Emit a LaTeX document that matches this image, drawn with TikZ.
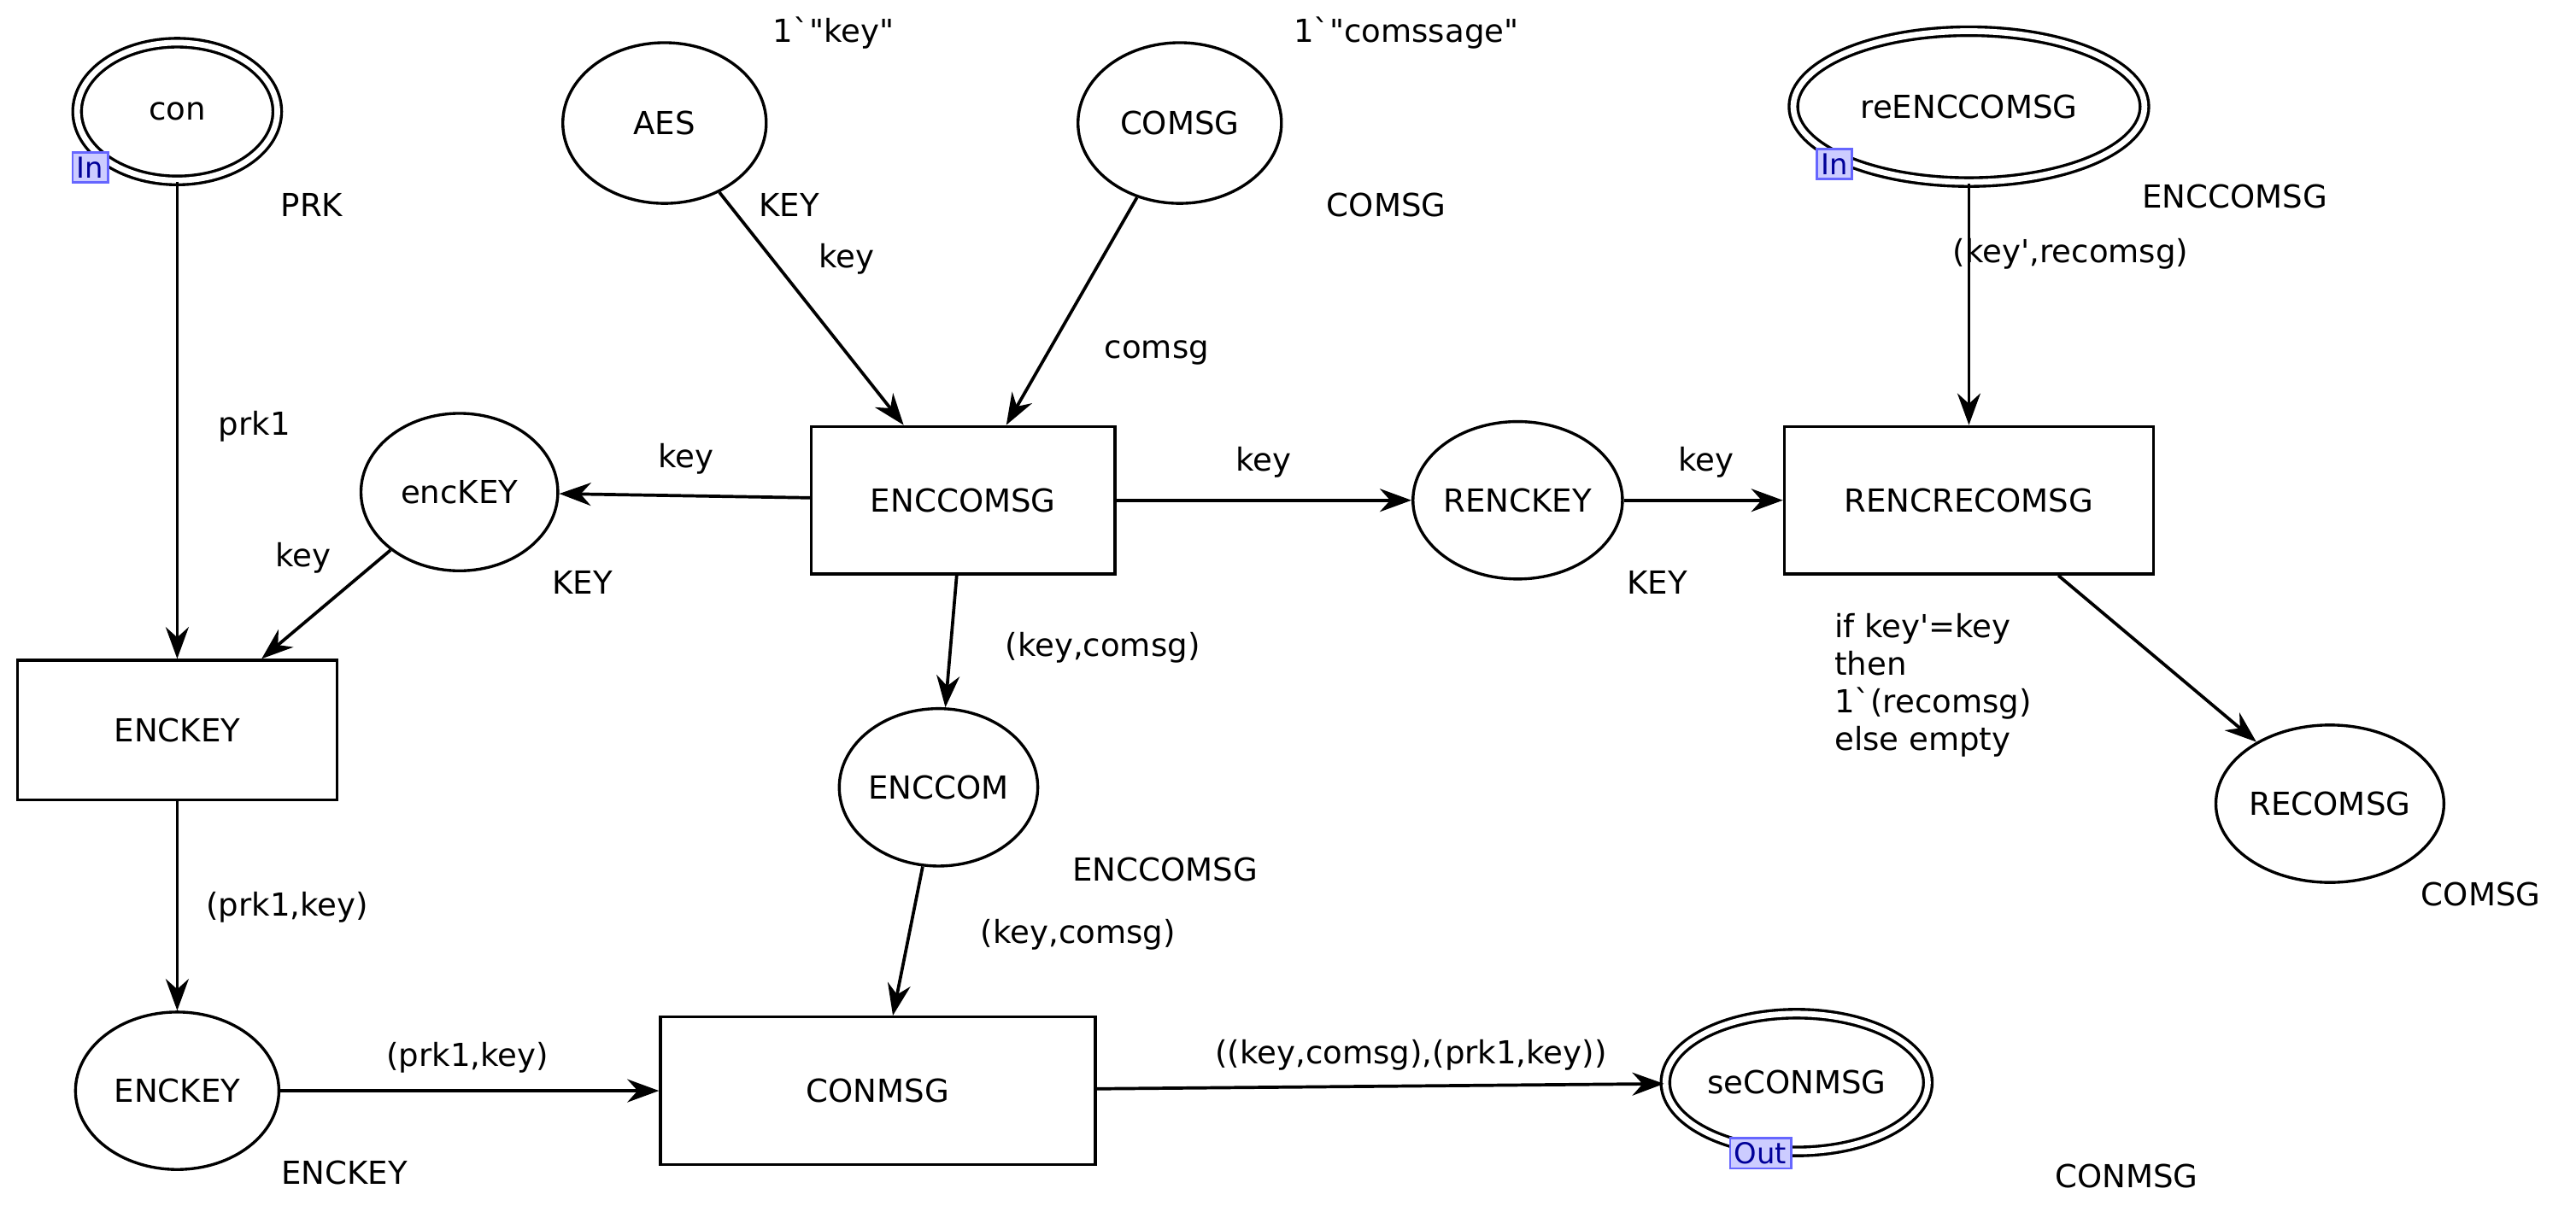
\documentclass[tikz,border=0pt]{standalone}
\usepackage{fontspec}
\setmainfont{DejaVu Sans}[Ligatures=TeXOff]
\usetikzlibrary{arrows.meta,shapes.geometric}
\begin{document}
\begin{tikzpicture}[x=0.02cm,y=-0.02cm,font=\fontsize{11}{13}\selectfont,
 pl/.style={ellipse,draw,line width=1pt,inner sep=0pt},
 dpl/.style={ellipse,draw,line width=1pt,double distance=2pt,inner sep=0pt},
 tr/.style={rectangle,draw,line width=1pt,inner sep=0pt},
 arc/.style={line width=1.1pt,-{Stealth[length=11pt,width=8pt]}},
 tag/.style={draw=blue!60,line width=0.8pt,fill=blue!20,text=blue!60!black,inner sep=1.5pt,font=\fontsize{10}{11}\selectfont},
 lb/.style={inner sep=1pt}]
\useasboundingbox (0,0) rectangle (1570,735);
% places
\node[dpl,minimum width=2.44cm,minimum height=1.68cm] (con) at (108,68) {con};
\node[tag] (tcon) at (55,102) {In};
\node[lb] (lprk) at (190,125) {PRK};
\node[pl,minimum width=2.48cm,minimum height=1.96cm] (aes) at (405,75) {AES};
\node[lb] (iaes) at (508,20) {1`"key"};
\node[pl,minimum width=2.48cm,minimum height=1.96cm] (comsg) at (719,75) {COMSG};
\node[lb] (icomsg) at (857,20) {1`"comssage"};
\node[lb] (lcomsg) at (845,125) {COMSG};
\node[dpl,minimum width=4.28cm,minimum height=1.84cm] (re) at (1200,65) {reENCCOMSG};
\node[tag] (tre) at (1118,100) {In};
\node[lb] (lre) at (1362,120) {ENCCOMSG};
\node[pl,minimum width=2.4cm,minimum height=1.92cm] (enckeyp) at (280,300) {encKEY};
\node[lb] (lek) at (355,355) {KEY};
\node[pl,minimum width=2.48cm,minimum height=1.92cm] (renckey) at (925,305) {RENCKEY};
\node[lb] (lrk) at (1010,355) {KEY};
\node[pl,minimum width=2.08cm,minimum height=1.92cm] (enccom) at (572,480) {ENCCOM};
\node[lb] (lec) at (710,530) {ENCCOMSG};
\node[pl,minimum width=2.48cm,minimum height=1.92cm] (recomsg) at (1420,490) {RECOMSG};
\node[lb] (lrc) at (1512,545) {COMSG};
\node[pl,minimum width=2.48cm,minimum height=1.92cm] (enckeyo) at (108,665) {ENCKEY};
\node[lb] (leo) at (210,715) {ENCKEY};
\node[dpl,minimum width=3.2cm,minimum height=1.68cm] (secon) at (1095,660) {seCONMSG};
\node[tag] (tse) at (1073,703) {Out};
\node[lb] (lse) at (1296,717) {CONMSG};
% transitions
\node[tr,minimum width=3.7cm,minimum height=1.8cm] (enccomsg) at (587,305) {ENCCOMSG};
\node[tr,minimum width=4.5cm,minimum height=1.8cm] (renc) at (1200,305) {RENCRECOMSG};
\node[tr,minimum width=3.9cm,minimum height=1.7cm] (enckeyt) at (108,445) {ENCKEY};
\node[tr,minimum width=5.3cm,minimum height=1.8cm] (conmsg) at (535,665) {CONMSG};
% arcs
\draw[arc] (con) -- (enckeyt);
\node[lb] at (155,260) {prk1};
\draw[arc] (enckeyp) -- (enckeyt);
\node[lb] at (185,340) {key};
\draw[arc] (enccomsg) -- (enckeyp);
\node[lb] at (418,280) {key};
\draw[arc] (aes) -- (enccomsg);
\node[lb] at (481,125) {KEY};
\node[lb] at (516,158) {key};
\draw[arc] (comsg) -- (enccomsg);
\node[lb] at (705,215) {comsg};
\draw[arc] (enccomsg) -- (renckey);
\node[lb] at (770,282) {key};
\draw[arc] (renckey) -- (renc);
\node[lb] at (1040,282) {key};
\draw[arc] (re) -- (renc);
\node[lb] at (1262,155) {(key',recomsg)};
\draw[arc] (renc) -- (recomsg);
\node[lb,align=left,anchor=north west] at (1116,372) {if key'=key\\then\\1`(recomsg)\\else empty};
\draw[arc] (enccomsg) -- (enccom);
\node[lb] at (672,395) {(key,comsg)};
\draw[arc] (enckeyt) -- (enckeyo);
\node[lb] at (175,553) {(prk1,key)};
\draw[arc] (enccom) -- (conmsg);
\node[lb] at (657,570) {(key,comsg)};
\draw[arc] (enckeyo) -- (conmsg);
\node[lb] at (285,645) {(prk1,key)};
\draw[arc] (conmsg) -- (secon);
\node[lb] at (860,643) {((key,comsg),(prk1,key))};
\end{tikzpicture}
\end{document}
